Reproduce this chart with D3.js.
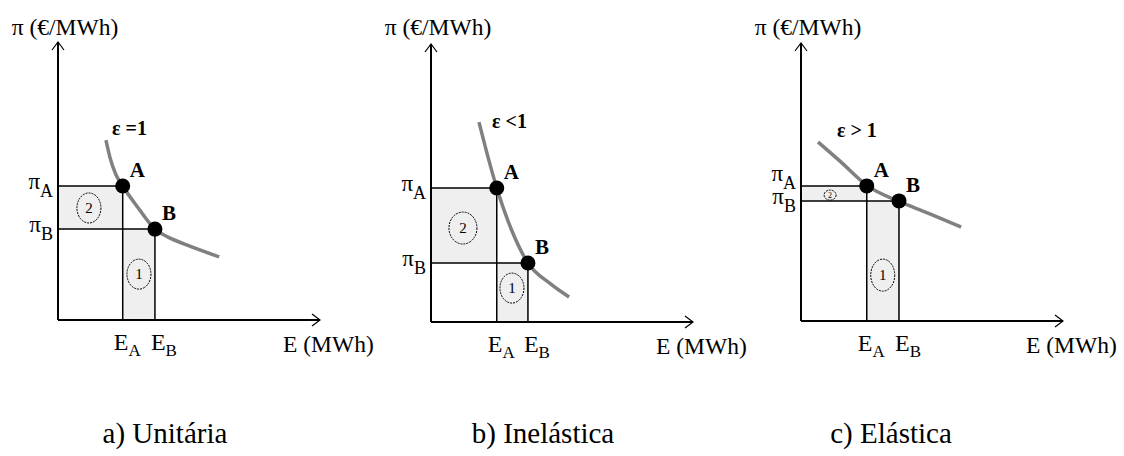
<!DOCTYPE html>
<html>
<head>
<meta charset="utf-8">
<script src="https://cdn.jsdelivr.net/npm/d3@7"></script>
</head>
<body style="margin:0">
<script>
// data, in axis units (0..10 on both axes)
var captions = ["a) Unitária", "b) Inelástica", "c) Elástica"];
var curveLabels = ["ε =1", "ε <1", "ε > 1"];
var pointA = [[2.47, 4.82], [2.51, 4.82], [2.51, 4.86]];
var pointB = [[3.70, 3.27], [3.70, 2.12], [3.74, 4.32]];
var curveA = [[1.83, 6.47], [1.98, 5.86], [2.2, 5.25], [2.47, 4.82], [3.07, 4.02], [3.70, 3.27], [4.2, 2.98], [4.91, 2.70], [6.15, 2.27]];
var curveB = [[1.83, 7.19], [2.1, 6.2], [2.51, 4.82], [3.08, 3.3], [3.70, 2.12], [4.54, 1.39], [5.27, 0.90]];
var curveC = [[0.65, 6.44], [1.49, 5.75], [2.51, 4.88], [3.74, 4.30], [4.80, 3.90], [6.11, 3.38]];
var curves = [curveA, curveB, curveC];
var curveLabelPos = [[2.06, 6.65], [2.33, 6.98], [1.37, 6.62]];
var area1Label = [[3.09, 1.65], [3.09, 1.22], [3.12, 1.65]];
var area2Label = [[1.18, 4.03], [1.22, 3.38], [1.11, 4.53]];

// layout
var w = 1124, h = 456;
var origins = [[58, 320], [431, 322], [801, 321]];
var captionX = [165, 543, 891];
var piAShift = [0, 0, -8];
var ovalSize = [[[12, 15], [12, 15]], [[12, 15], [14, 16]], [[12, 16], [6, 5]]];
var serif = "Liberation Serif";

var xScale = d3.scaleLinear().domain([0, 10]).range([0, 262]);
var yScale = d3.scaleLinear().domain([0, 10]).range([278, 0]);

var line = d3.line()
  .x(function(d) { return xScale(d[0]); })
  .y(function(d) { return yScale(d[1]); })
  .curve(d3.curveMonotoneX);

var svg = d3.select("body").append("svg")
  .attr("width", w)
  .attr("height", h);

function label(sel, size, bold) {
  return sel.append("text")
    .attr("font-family", serif)
    .style("font-size", size + "px")
    .style("font-weight", bold ? "bold" : "normal");
}

origins.forEach(function(o, i) {
  var top = o[1] - yScale(0);
  var g = svg.append("g").attr("transform", "translate(" + o[0] + "," + top + ")");
  var A = pointA[i], B = pointB[i];

  // shaded areas
  g.append("rect")
    .attr("x", xScale(0)).attr("y", yScale(A[1]))
    .attr("width", xScale(A[0]) - xScale(0))
    .attr("height", yScale(B[1]) - yScale(A[1]))
    .attr("fill", "#efefef");
  g.append("rect")
    .attr("x", xScale(A[0])).attr("y", yScale(B[1]))
    .attr("width", xScale(B[0]) - xScale(A[0]))
    .attr("height", yScale(0) - yScale(B[1]))
    .attr("fill", "#efefef");

  // guide lines
  [A, B].forEach(function(p) {
    g.append("line")
      .attr("x1", xScale(0)).attr("x2", xScale(p[0]))
      .attr("y1", yScale(p[1])).attr("y2", yScale(p[1]))
      .attr("stroke", "#000").attr("stroke-width", 1.5);
    g.append("line")
      .attr("x1", xScale(p[0])).attr("x2", xScale(p[0]))
      .attr("y1", yScale(p[1])).attr("y2", yScale(0))
      .attr("stroke", "#000").attr("stroke-width", 1.5);
  });

  // axes with open arrows
  g.append("path")
    .attr("d", "M" + xScale(0) + "," + yScale(0) + "H" + xScale(10) +
      "M" + xScale(0) + "," + yScale(0) + "V" + yScale(10))
    .attr("fill", "none").attr("stroke", "#000").attr("stroke-width", 2);
  g.append("path")
    .attr("d", "M" + (xScale(0) - 6) + "," + (yScale(10) + 8) + "L" + xScale(0) + "," + yScale(10) +
      "L" + (xScale(0) + 6) + "," + (yScale(10) + 8) +
      "M" + (xScale(10) - 8) + "," + (yScale(0) - 6) + "L" + xScale(10) + "," + yScale(0) +
      "L" + (xScale(10) - 8) + "," + (yScale(0) + 6))
    .attr("fill", "none").attr("stroke", "#000").attr("stroke-width", 1.2);

  // demand curve
  g.append("path")
    .attr("d", line(curves[i]))
    .attr("fill", "none").attr("stroke", "#808080").attr("stroke-width", 3.5);

  // area markers
  [[area1Label[i], "1", ovalSize[i][0], 15], [area2Label[i], "2", ovalSize[i][1], i === 2 ? 8 : 15]].forEach(function(m) {
    var cx = xScale(m[0][0]), cy = yScale(m[0][1]);
    g.append("ellipse")
      .attr("cx", cx).attr("cy", cy)
      .attr("rx", m[2][0]).attr("ry", m[2][1])
      .attr("fill", "none").attr("stroke", "#000").attr("stroke-width", 1)
      .attr("stroke-dasharray", "2,1");
    label(g, m[3])
      .attr("x", cx).attr("y", cy + m[3] * 0.33)
      .attr("text-anchor", "middle")
      .text(m[1]);
  });

  // points
  [A, B].forEach(function(p, k) {
    g.append("circle")
      .attr("cx", xScale(p[0])).attr("cy", yScale(p[1]))
      .attr("r", 7.5).attr("fill", "#000");
    label(g, 21, true)
      .attr("x", xScale(p[0]) + 7).attr("y", yScale(p[1]) - 9)
      .text(k === 0 ? "A" : "B");
  });

  // curve label
  label(g, 20, true)
    .attr("x", xScale(curveLabelPos[i][0])).attr("y", yScale(curveLabelPos[i][1]))
    .text(curveLabels[i]);

  // price labels
  [[A, "A", piAShift[i]], [B, "B", 0]].forEach(function(m) {
    var t = label(g, 23)
      .attr("x", xScale(0) - 5).attr("y", yScale(m[0][1]) + 3 + m[2])
      .attr("text-anchor", "end");
    t.append("tspan").text("π");
    t.append("tspan").attr("dy", 8).style("font-size", "18px").text(m[1]);
  });

  // quantity labels
  [[A, "A", -9], [B, "B", -4]].forEach(function(m) {
    var t = label(g, 24)
      .attr("x", xScale(m[0][0]) + m[2]).attr("y", yScale(0) + 30);
    t.append("tspan").text("E");
    t.append("tspan").attr("dy", 6).style("font-size", "17px").text(m[1]);
  });

  // axis titles
  label(g, 23.5)
    .attr("x", xScale(0) + 7).attr("y", 35 - top)
    .attr("text-anchor", "middle")
    .text("π (€/MWh)");
  label(g, 23.5)
    .attr("x", xScale(10) - 37).attr("y", yScale(0) + 32)
    .text("E (MWh)");
});

// captions
captions.forEach(function(c, i) {
  label(svg, 29)
    .attr("x", captionX[i])
    .attr("y", 443)
    .attr("text-anchor", "middle")
    .text(c);
});
</script>
</body>
</html>
